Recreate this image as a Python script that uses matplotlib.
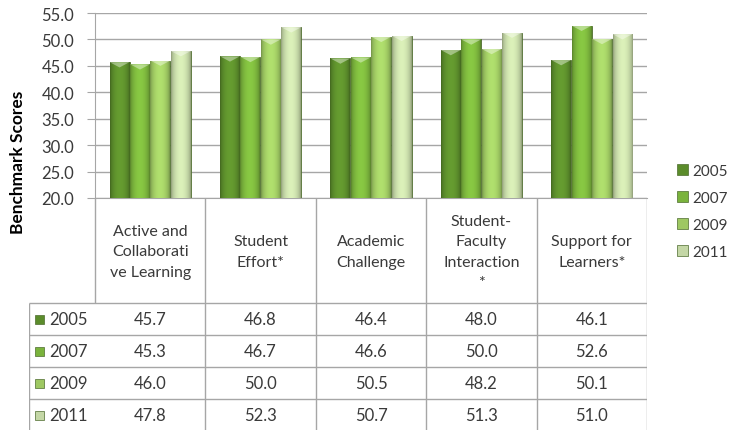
import numpy as np
import matplotlib
matplotlib.use("Agg")
import matplotlib.pyplot as plt
from matplotlib.patches import Patch, Rectangle

plt.rcParams['font.family'] = ['Lato', 'DejaVu Sans']

categories = ["Active and\nCollaborati\nve Learning", "Student\nEffort*",
              "Academic\nChallenge", "Student-\nFaculty\nInteraction\n*",
              "Support for\nLearners*"]
years = ["2005", "2007", "2009", "2011"]
scores = {
    "2005": [45.7, 46.8, 46.4, 48.0, 46.1],
    "2007": [45.3, 46.7, 46.6, 50.0, 52.6],
    "2009": [46.0, 50.0, 50.5, 48.2, 50.1],
    "2011": [47.8, 52.3, 50.7, 51.3, 51.0],
}
colors = {"2005": "#5b8c2b", "2007": "#7ab33c", "2009": "#9ec862", "2011": "#c4d7a6"}
yticks = np.arange(20, 56, 5)

W, H = 733, 431
fig = plt.figure(figsize=(W / 100, H / 100), dpi=100)
ax = fig.add_axes([95 / W, 1 - 199 / H, (647 - 95) / W, (199 - 14) / H])

grid_c = "#a6a6a6"
text_c = "#3a3a3a"

x = np.arange(len(categories))
bw = 0.18
step = 0.185


def shaded(color, n=32):
    # horizontal cylinder-like shading for a bar
    base = np.array(matplotlib.colors.to_rgb(color))
    t = np.linspace(0, 1, n)
    f = 0.74 + 0.38 * np.sin(np.pi * t) ** 0.6
    img = np.clip(base[None, :] * f[:, None], 0, 1)
    return img[None, :, :]


for i, yr in enumerate(years):
    bars = ax.bar(x + (i - 1.5) * step, scores[yr], width=bw, color=colors[yr],
                  edgecolor="#4d6b2e", linewidth=0.6, zorder=3)
    for b in bars:
        x0, w, h = b.get_x(), b.get_width(), b.get_height()
        im = ax.imshow(shaded(colors[yr]), extent=[x0, x0 + w, 20, h],
                       aspect="auto", zorder=3.5)
        im.set_clip_path(b)
        # lighter cap at the top of each bar
        cap = matplotlib.patches.Polygon(
            [[x0, h], [x0 + w, h], [x0 + w * 0.5, h - 1.0]],
            closed=True, color="white", alpha=0.4, lw=0, zorder=4)
        ax.add_patch(cap)

ax.set_xlim(-0.5, 4.5)
ax.set_ylim(20, 55)
ax.set_yticks(yticks)
ax.set_yticklabels([f"{v:.1f}" for v in yticks], fontsize=12, color=text_c)
ax.set_xticks([])
ax.yaxis.grid(True, color=grid_c, linewidth=1, zorder=0)
ax.tick_params(axis="y", length=6, color=grid_c, pad=9)
for s in ["top", "right"]:
    ax.spines[s].set_visible(False)
for s in ["left", "bottom"]:
    ax.spines[s].set_color(grid_c)
ax.set_ylabel("Benchmark Scores", fontsize=12.5, fontweight="bold", color="black")
ax.yaxis.set_label_coords((26 - 95) / 552, (199 - 162) / 185)

# data table under the chart
tx0 = -0.5 - (95 - 29) / 110.4
tab = fig.add_axes([29 / W, 0, (647 - 29) / W, (H - 199) / H])
tab.set_xlim(tx0, 4.5)
tab.set_ylim(H - 199, 0)
tab.axis("off")
head_h, row_h = 105, 32

tab.vlines(-0.5, 0, head_h, color=grid_c, lw=1)
tab.vlines(tx0 + 0.003, head_h, H - 199, color=grid_c, lw=1)
tab.vlines(x + 0.5, 0, H - 199, color=grid_c, lw=1)
for k in range(len(years)):
    tab.hlines(head_h + k * row_h, tx0, 4.5, color=grid_c, lw=1)

for j, cat in enumerate(categories):
    tab.text(j, head_h / 2 + 1, cat, ha="center", va="center", fontsize=11.5,
             color=text_c, linespacing=1.6)

for k, yr in enumerate(years):
    yc = head_h + (k + 0.5) * row_h
    tab.add_patch(Rectangle((tx0 + 6 / 110.4, yc - 4.5), 9 / 110.4, 9,
                            facecolor=colors[yr], edgecolor="#4d6b2e", lw=0.5))
    tab.text(tx0 + 20 / 110.4, yc, yr, ha="left", va="center", fontsize=12,
             color=text_c)
    for j, v in enumerate(scores[yr]):
        tab.text(j, yc, f"{v:.1f}", ha="center", va="center", fontsize=12,
                 color=text_c)

handles = [Patch(facecolor=colors[yr], edgecolor="#4d6b2e", linewidth=0.5)
           for yr in years]
fig.legend(handles, years, loc="upper left", bbox_to_anchor=(669 / W, 1 - 157 / H),
           frameon=False, fontsize=11, handlelength=0.75, handleheight=0.75,
           handletextpad=0.3, labelspacing=0.85, borderpad=0, labelcolor=text_c)

fig.savefig("out.png", dpi=100)
